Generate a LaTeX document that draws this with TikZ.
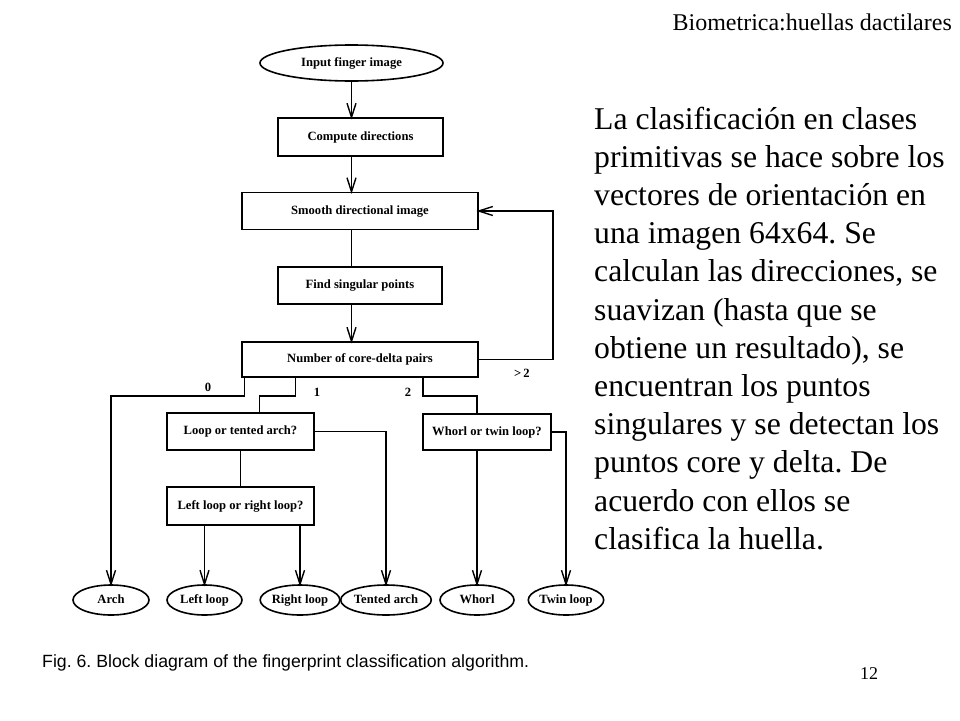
\documentclass[tikz,border=0pt]{standalone}
\usepackage{fontspec}
\setmainfont{Liberation Serif}
\newfontfamily\capfont{Liberation Sans}
\usetikzlibrary{shapes.geometric,calc}
\frenchspacing
\begin{document}
\begin{tikzpicture}[x=1pt,y=1pt,
  every node/.style={inner sep=0pt},
  diag/.style={font=\fontsize{12.6}{14}\selectfont\bfseries,text height=8.5pt,text depth=2.5pt},
  stepbox/.style={diag,draw,line width=1.6pt,rectangle},
  oval/.style={diag,draw,line width=1.6pt,ellipse},
  ln/.style={line width=1.4pt},
  vhead/.pic={\draw[ln,line join=miter] (-4.5,14) -- (0,0) -- (4.5,14);},
  lbl/.style={font=\fontsize{12.6}{14}\selectfont\bfseries},
  body/.style={anchor=base west,font=\fontsize{31.7}{38}\selectfont}]
\useasboundingbox (0,0) rectangle (960,-720);
% diagram nodes
\node[oval,minimum width=183pt,minimum height=36pt] (in) at (351.5,-63) {Input finger image};
\node[stepbox,minimum width=165pt,minimum height=38pt] (cd) at (360.5,-137) {Compute directions};
\node[stepbox,minimum width=236pt,minimum height=37pt] (sm) at (360,-211) {Smooth directional image};
\node[stepbox,minimum width=164pt,minimum height=37pt] (fs) at (360,-285.5) {Find singular points};
\node[stepbox,minimum width=236pt,minimum height=35pt] (nc) at (360,-359.5) {Number of core-delta pairs};
\node[stepbox,minimum width=147pt,minimum height=37pt] (lt) at (240.5,-431.5) {Loop or tented arch?};
\node[stepbox,minimum width=147pt,minimum height=38pt] (lr) at (240.5,-506) {Left loop or right loop?};
\node[stepbox,minimum width=128pt,minimum height=36pt] (wt) at (487,-432) {Whorl or twin loop?};
\node[oval,minimum width=76pt,minimum height=30pt] (arch) at (111,-600) {Arch};
\node[oval,minimum width=75pt,minimum height=30pt] (left) at (204.5,-600) {Left loop};
\node[oval,minimum width=74pt,minimum height=30pt] (right) at (300,-600) {Right loop};
\node[oval,minimum width=74pt,minimum height=30pt] (tent) at (386,-600) {Tented arch};
\node[oval,minimum width=74pt,minimum height=30pt] (whorl) at (477,-600) {Whorl};
\node[oval,minimum width=68pt,minimum height=30pt] (twin) at (566,-600) {Twin loop};
% connectors
\draw[ln] (in.south) -- (in.south |- cd.north) pic {vhead};
\draw[ln] (in.south |- cd.south) -- (in.south |- sm.north) pic {vhead};
\draw[ln] (in.south |- sm.south) -- (in.south |- fs.north);
\draw[ln] (in.south |- fs.south) -- (in.south |- nc.north) pic {vhead};
\draw[ln] (nc.east) -- ++(74,0) |- (sm.east) pic[rotate=-90] {vhead};
\draw[ln] ([xshift=3pt]nc.south west) -- ++(0,-18) -| (arch.north) pic {vhead};
\draw[ln] ([xshift=54pt]nc.south west) -- ++(0,-18) -| ([xshift=19pt]lt.north);
\draw[ln] ([xshift=63pt]nc.south) -- ++(0,-18) -| ([xshift=-10pt]wt.north);
\draw[ln] (lt.east) -| (tent.north) pic {vhead};
\draw[ln] (lt.south) -- (lr.north);
\draw[ln] (lr.south -| left.north) -- (left.north) pic {vhead};
\draw[ln] (lr.south -| right.north) -- (right.north) pic {vhead};
\draw[ln] (wt.south -| whorl.north) -- (whorl.north) pic {vhead};
\draw[ln] (wt.east) -| (twin.north) pic {vhead};
% branch labels
\node[lbl] (l0) at (208,-387) {0};
\node[lbl] (l1) at (317,-392) {1};
\node[lbl] (l2) at (408,-392) {2};
\node[lbl] (lg) at (522,-373) {>\,2};
% caption, header, page
\node[anchor=base west,font=\capfont\fontsize{17.7}{20}\selectfont] (cap) at (42,-667) {Fig. 6. Block diagram of the fingerprint classification algorithm.};
\node[anchor=base east,font=\fontsize{24}{28}\selectfont] (hdr) at (952,-30) {Biometrica:huellas dactilares};
\node[anchor=base west,font=\fontsize{18}{20}\selectfont] (pg) at (860,-679) {12};
% body text
\node[body] (t1) at (594,-129) {La clasificación en clases};
\node[body] (t2) at (594,-167.2) {primitivas se hace sobre los};
\node[body] (t3) at (594,-205.4) {vectores de orientación en};
\node[body] (t4) at (594,-243.6) {una imagen 64x64. Se};
\node[body] (t5) at (594,-281.8) {calculan las direcciones, se};
\node[body] (t6) at (594,-320) {suavizan (hasta que se};
\node[body] (t7) at (594,-358.2) {obtiene un resultado), se};
\node[body] (t8) at (594,-396.4) {encuentran los puntos};
\node[body] (t9) at (594,-434.6) {singulares y se detectan los};
\node[body] (t10) at (594,-472.8) {puntos core y delta. De};
\node[body] (t11) at (594,-511) {acuerdo con ellos se};
\node[body] (t12) at (594,-549.2) {clasifica la huella.};
\end{tikzpicture}
\end{document}
